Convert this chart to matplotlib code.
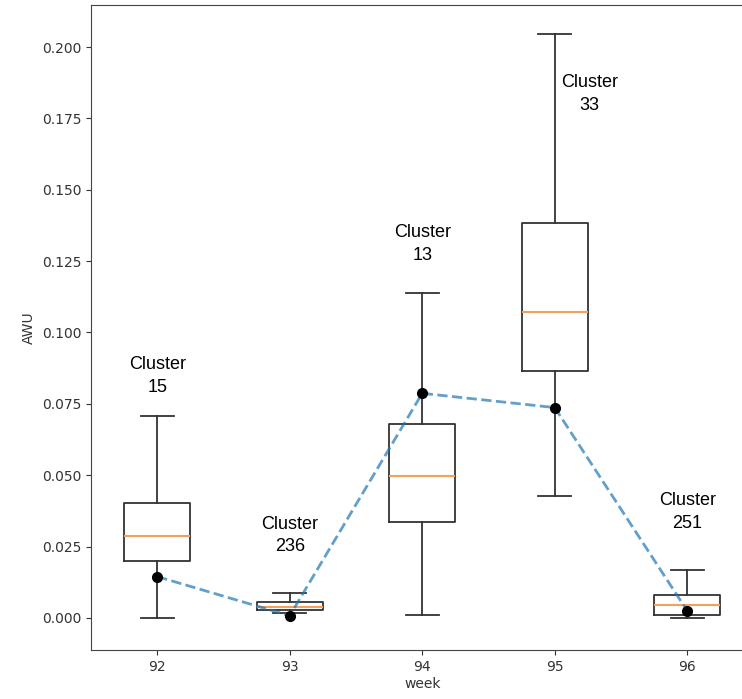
"""Weekly AWU distribution per week, with the tracked cluster overlaid."""
import matplotlib
matplotlib.use("Agg")
import matplotlib.pyplot as plt

# --- data -----------------------------------------------------------------------
weeks = ["92", "93", "94", "95", "96"]
whislo = [0.0000, 0.0019, 0.0009, 0.0428, 0.0000]
q1 = [0.0200, 0.0029, 0.0336, 0.0866, 0.0012]
med = [0.0288, 0.0040, 0.0496, 0.1072, 0.0044]
q3 = [0.0403, 0.0055, 0.0678, 0.1385, 0.0081]
whishi = [0.0708, 0.0087, 0.1139, 0.2046, 0.0169]

cluster_awu = [0.0145, 0.0008, 0.0787, 0.0737, 0.0025]
cluster_ids = ["15", "236", "13", "33", "251"]
label_y = [0.0848, 0.0289, 0.1311, 0.1835, 0.0370]
label_dx = [0.0, 0.0, 0.0, 0.26, 0.0]

# --- figure -------------------------------------------------------------------
fig = plt.figure(figsize=(7.42, 6.99), dpi=100)
ax = fig.add_axes([0.1226, 0.0701, 0.8929, 0.9227])

stats = [{"whislo": lo, "q1": a, "med": m, "q3": b, "whishi": hi, "fliers": []}
         for lo, a, m, b, hi in zip(whislo, q1, med, q3, whishi)]
pos = list(range(1, len(weeks) + 1))
box_kw = dict(color="#333333", linewidth=1.3)
ax.bxp(stats, positions=pos, widths=0.5, showfliers=False,
       boxprops=box_kw, whiskerprops=box_kw, capprops=box_kw,
       medianprops=dict(color="#f5a05a", linewidth=1.5))

ax.plot(pos, cluster_awu, "--", color="#1f77b4", alpha=0.7, lw=2.0, zorder=3)
ax.plot(pos, cluster_awu, "o", color="black", ms=7, zorder=4)

for p, cid, yy, dx in zip(pos, cluster_ids, label_y, label_dx):
    ax.text(p + dx, yy, f"Cluster\n{cid}", ha="center", va="center",
            fontsize=13, family=["Liberation Sans", "DejaVu Sans"],
            linespacing=1.45)

ax.set_xticks(pos)
ax.set_xticklabels(weeks)
ax.set_xlim(0.5, 5.5)
ax.set_ylim(-0.01121, 0.2147)
ax.set_yticks([0.0, 0.025, 0.05, 0.075, 0.1, 0.125, 0.15, 0.175, 0.2])
ax.set_yticklabels([f"{v:.3f}" for v in ax.get_yticks()])
ax.tick_params(labelsize=10, colors="#333333")
for s in ax.spines.values():
    s.set_color("#444444")
ax.set_xlabel("week", fontsize=10, color="#333333", labelpad=2)
ax.set_ylabel("AWU", fontsize=10, color="#333333")

fig.savefig("out.png", dpi=100)
